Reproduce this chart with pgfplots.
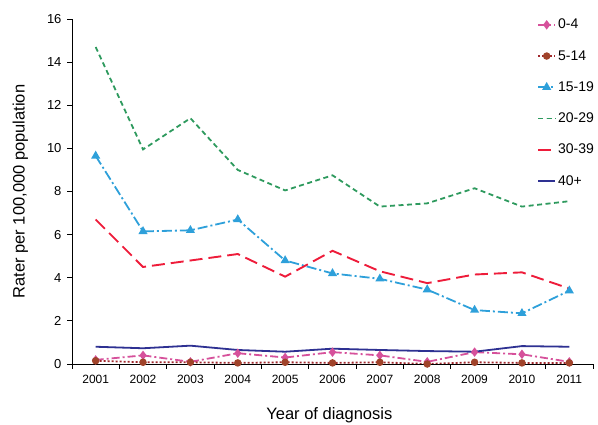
\documentclass[border=0pt]{standalone}
\usepackage{pgfplots}
\pgfplotsset{compat=1.18}
\usepackage{fontspec}
\setmainfont{Liberation Sans}
\definecolor{cpink}{HTML}{D6519B}
\definecolor{cdred}{HTML}{A0282D}
\definecolor{cbrown}{HTML}{A0432A}
\definecolor{cblue}{HTML}{2EA0DA}
\definecolor{cgreen}{HTML}{2E9A5E}
\definecolor{cred}{HTML}{EE1C3A}
\definecolor{cnavy}{HTML}{2E3192}
\begin{document}
\begin{tikzpicture}[x=1pt,y=1pt]
\path[use as bounding box] (-72,-61) rectangle (526,364);
\begin{axis}[
  at={(0,0)}, anchor=south west,
  scale only axis, width=521pt, height=345pt,
  xmin=2000.5, xmax=2011.5, ymin=0, ymax=16,
  axis x line*=bottom, axis y line*=left,
  axis line style={black, line width=0.9pt},
  xtick={2001,...,2011}, major x tick style={draw=none},
  minor xtick={2000.5,2001.5,...,2011.5},
  minor x tick style={black, line width=0.8pt},
  minor tick length=5pt,
  ytick={0,2,...,16},
  major tick length=5pt,
  y tick style={black, line width=0.8pt},
  tick align=outside,
  /pgf/number format/assume math mode=true,
  xticklabel style={/pgf/number format/1000 sep={}, font=\fontsize{12}{14}\selectfont, yshift=-3pt},
  yticklabel style={font=\fontsize{13}{15}\selectfont, xshift=-2pt},
  xlabel={Year of diagnosis}, ylabel={Rater per 100,000 population},
  label style={font=\fontsize{16.5}{19}\selectfont},
  xlabel style={at={(axis description cs:0.494,0)}, yshift=-40pt},
  ylabel style={yshift=12pt},
  legend style={draw=none, fill=none, at={(465pt,347pt)}, anchor=north west,
    font=\fontsize{14}{16}\selectfont, row sep=16pt, inner sep=0pt,
    cells={anchor=west}},
  legend cell align=left,
]
\addplot[cpink, line width=1.8pt, dash pattern=on 8pt off 3pt on 2pt off 3pt, mark=diamond*, mark size=3.3pt, mark options={solid, fill=cpink}] coordinates {
(2001,0.19)(2002,0.4)(2003,0.1)(2004,0.5)(2005,0.3)(2006,0.55)(2007,0.4)(2008,0.1)(2009,0.55)(2010,0.45)(2011,0.1)};
\addlegendentry{0-4}
\addplot[cdred, line width=1.8pt, dash pattern=on 2pt off 2pt, mark=*, mark size=2.8pt, mark options={solid, fill=cbrown, draw=cbrown}] coordinates {
(2001,0.15)(2002,0.08)(2003,0.08)(2004,0.05)(2005,0.08)(2006,0.05)(2007,0.08)(2008,0.0)(2009,0.08)(2010,0.05)(2011,0.05)};
\addlegendentry{5-14}
\addplot[cblue, line width=1.8pt, dash pattern=on 10pt off 3pt on 2pt off 3pt, mark=triangle*, mark size=3.5pt, mark options={solid, fill=cblue}] coordinates {
(2001,9.65)(2002,6.15)(2003,6.2)(2004,6.7)(2005,4.8)(2006,4.2)(2007,3.95)(2008,3.45)(2009,2.5)(2010,2.35)(2011,3.4)};
\addlegendentry{15-19}
\addplot[cgreen, line width=1.8pt, dash pattern=on 5pt off 3.5pt] coordinates {
(2001,14.7)(2002,9.95)(2003,11.4)(2004,9.0)(2005,8.05)(2006,8.75)(2007,7.3)(2008,7.45)(2009,8.15)(2010,7.3)(2011,7.55)};
\addlegendentry{20-29}
\addplot[cred, line width=1.9pt, dash pattern=on 13pt off 6pt] coordinates {
(2001,6.7)(2002,4.5)(2003,4.8)(2004,5.1)(2005,4.05)(2006,5.25)(2007,4.3)(2008,3.75)(2009,4.15)(2010,4.25)(2011,3.5)};
\addlegendentry{30-39}
\addplot[cnavy, line width=1.8pt] coordinates {
(2001,0.8)(2002,0.73)(2003,0.85)(2004,0.65)(2005,0.57)(2006,0.71)(2007,0.65)(2008,0.6)(2009,0.57)(2010,0.83)(2011,0.8)};
\addlegendentry{40+}
\end{axis}
\end{tikzpicture}
\end{document}
